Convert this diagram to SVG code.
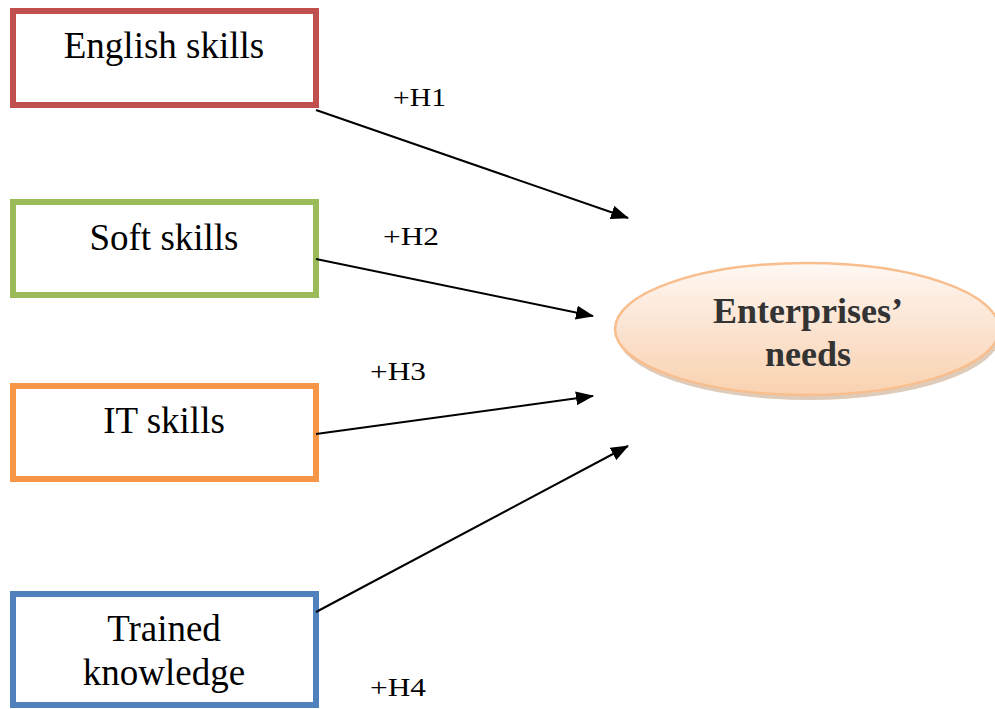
<svg xmlns="http://www.w3.org/2000/svg" width="995" height="709" viewBox="0 0 995 709">
  <style>
    .box { fill: #ffffff; stroke-width: 6; }
    .lbl { font-family: "Liberation Serif", "Times New Roman", serif; font-size: 37px; fill: #000; text-anchor: middle; }
    .hyp { font-family: "Liberation Serif", "Times New Roman", serif; font-size: 26px; fill: #000; }
    .edge { stroke: #000; stroke-width: 2; fill: none; marker-end: url(#arrow); }
    .goal { font-family: "Liberation Serif", "Times New Roman", serif; font-size: 36px; font-weight: bold; fill: #333333; text-anchor: middle; }
  </style>
  <defs>
    <marker id="arrow" markerWidth="18" markerHeight="14" refX="17" refY="7" orient="auto" markerUnits="userSpaceOnUse" viewBox="0 0 18 14">
      <path d="M0,0 L18,7 L0,14 Z" fill="#000"/>
    </marker>
    <linearGradient id="peach" x1="0" y1="0" x2="0" y2="1">
      <stop offset="0" stop-color="#fef8f4"/>
      <stop offset="0.5" stop-color="#fbe3d0"/>
      <stop offset="1" stop-color="#f9d2b0"/>
    </linearGradient>
  </defs>

  <g id="english-skills">
    <rect class="box" x="13" y="11" width="303" height="94" stroke="#c0504d"/>
    <text class="lbl" x="164" y="58">English skills</text>
  </g>
  <g id="soft-skills">
    <rect class="box" x="13" y="202" width="303" height="93" stroke="#9bbb59"/>
    <text class="lbl" x="164" y="250">Soft skills</text>
  </g>
  <g id="it-skills">
    <rect class="box" x="13" y="386" width="303" height="93" stroke="#f79646"/>
    <text class="lbl" x="164" y="433">IT skills</text>
  </g>
  <g id="trained-knowledge">
    <rect class="box" x="13" y="594" width="303" height="111" stroke="#4f81bd"/>
    <text class="lbl" x="164" y="641">Trained</text>
    <text class="lbl" x="164" y="685">knowledge</text>
  </g>

  <g id="enterprises-needs">
    <ellipse cx="809" cy="334" rx="192" ry="66" fill="#c9a88c" opacity="0.6"/>
    <ellipse cx="807" cy="329" rx="192" ry="66" fill="url(#peach)" stroke="#f9be8e" stroke-width="2.5"/>
    <text class="goal" x="808" y="323">Enterprises’</text>
    <text class="goal" x="808" y="366">needs</text>
  </g>

  <g id="connectors">
    <line class="edge" x1="316" y1="110" x2="628" y2="218"/>
    <line class="edge" x1="316" y1="259" x2="593" y2="316"/>
    <line class="edge" x1="316" y1="434" x2="593" y2="396"/>
    <line class="edge" x1="316" y1="612" x2="628" y2="446"/>
    <text class="hyp" x="393" y="106" textLength="53" lengthAdjust="spacingAndGlyphs">+H1</text>
    <text class="hyp" x="383" y="245" textLength="56" lengthAdjust="spacingAndGlyphs">+H2</text>
    <text class="hyp" x="370" y="380" textLength="56" lengthAdjust="spacingAndGlyphs">+H3</text>
    <text class="hyp" x="370" y="696" textLength="56" lengthAdjust="spacingAndGlyphs">+H4</text>
  </g>
</svg>
